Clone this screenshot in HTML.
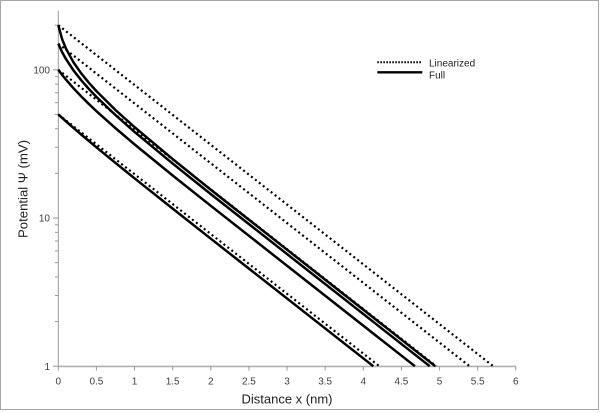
<!DOCTYPE html>
<html><head><meta charset="utf-8"><style>
html,body{margin:0;padding:0;background:#fff;}
svg{display:block;}
</style></head><body>
<svg width="600" height="413" viewBox="0 0 600 413" xmlns="http://www.w3.org/2000/svg">
<rect x="0" y="0" width="600" height="413" fill="#fff"/>
<rect x="0.5" y="0.5" width="598" height="409" fill="#fff" stroke="#a6a6a6" stroke-width="1"/>

<!-- y axis -->
<g stroke="#9a9a9a" stroke-width="1">
<line x1="58.3" y1="10.7" x2="58.3" y2="367"/>
<line x1="53" y1="366.2" x2="58.3" y2="366.2"/>
<line x1="53" y1="218" x2="58.3" y2="218"/>
<line x1="53" y1="69.8" x2="58.3" y2="69.8"/>
<g>
<line x1="55" y1="321.59" x2="58.3" y2="321.59"/>
<line x1="55" y1="295.49" x2="58.3" y2="295.49"/>
<line x1="55" y1="276.97" x2="58.3" y2="276.97"/>
<line x1="55" y1="262.61" x2="58.3" y2="262.61"/>
<line x1="55" y1="250.88" x2="58.3" y2="250.88"/>
<line x1="55" y1="240.96" x2="58.3" y2="240.96"/>
<line x1="55" y1="232.36" x2="58.3" y2="232.36"/>
<line x1="55" y1="224.78" x2="58.3" y2="224.78"/>
<line x1="55" y1="173.39" x2="58.3" y2="173.39"/>
<line x1="55" y1="147.29" x2="58.3" y2="147.29"/>
<line x1="55" y1="128.77" x2="58.3" y2="128.77"/>
<line x1="55" y1="114.41" x2="58.3" y2="114.41"/>
<line x1="55" y1="102.68" x2="58.3" y2="102.68"/>
<line x1="55" y1="92.76" x2="58.3" y2="92.76"/>
<line x1="55" y1="84.16" x2="58.3" y2="84.16"/>
<line x1="55" y1="76.58" x2="58.3" y2="76.58"/>
<line x1="55" y1="25.19" x2="58.3" y2="25.19"/>
</g>
</g>

<!-- x axis -->
<g stroke="#b0b0b0" stroke-width="1.6">
<line x1="58.3" y1="366.4" x2="516" y2="366.4"/>
</g>
<g stroke="#9a9a9a" stroke-width="1">
<line x1="58.3" y1="366" x2="58.3" y2="370.5"/>
<line x1="96.43" y1="366" x2="96.43" y2="370.5"/>
<line x1="134.55" y1="366" x2="134.55" y2="370.5"/>
<line x1="172.68" y1="366" x2="172.68" y2="370.5"/>
<line x1="210.8" y1="366" x2="210.8" y2="370.5"/>
<line x1="248.93" y1="366" x2="248.93" y2="370.5"/>
<line x1="287.05" y1="366" x2="287.05" y2="370.5"/>
<line x1="325.18" y1="366" x2="325.18" y2="370.5"/>
<line x1="363.3" y1="366" x2="363.3" y2="370.5"/>
<line x1="401.43" y1="366" x2="401.43" y2="370.5"/>
<line x1="439.55" y1="366" x2="439.55" y2="370.5"/>
<line x1="477.68" y1="366" x2="477.68" y2="370.5"/>
<line x1="515.8" y1="366" x2="515.8" y2="370.5"/>
</g>

<!-- tick labels -->
<g font-family="Liberation Sans, sans-serif" font-size="10" fill="#404040" text-anchor="middle">
<text x="58.3" y="384.5">0</text>
<text x="96.43" y="384.5">0.5</text>
<text x="134.55" y="384.5">1</text>
<text x="172.68" y="384.5">1.5</text>
<text x="210.8" y="384.5">2</text>
<text x="248.93" y="384.5">2.5</text>
<text x="287.05" y="384.5">3</text>
<text x="325.18" y="384.5">3.5</text>
<text x="363.3" y="384.5">4</text>
<text x="401.43" y="384.5">4.5</text>
<text x="439.55" y="384.5">5</text>
<text x="477.68" y="384.5">5.5</text>
<text x="515.8" y="384.5">6</text>
</g>
<g font-family="Liberation Sans, sans-serif" font-size="10" fill="#404040" text-anchor="end">
<text x="50" y="370">1</text>
<text x="50" y="221.5">10</text>
<text x="50" y="73.5">100</text>
</g>

<!-- axis titles -->
<text x="287" y="403.5" font-family="Liberation Sans, sans-serif" font-size="12.5" fill="#222" text-anchor="middle" textLength="91" lengthAdjust="spacingAndGlyphs">Distance x (nm)</text>
<text transform="translate(27.5,189) rotate(-90)" x="0" y="0" font-family="Liberation Sans, sans-serif" font-size="12.5" fill="#222" text-anchor="middle" textLength="98" lengthAdjust="spacingAndGlyphs">Potential Ψ (mV)</text>

<!-- Linearized (dotted) -->
<g stroke="#000" stroke-width="2.2" stroke-dasharray="2 3" fill="none">
<line x1="58.3" y1="25.19" x2="493.2" y2="366.2"/>
<line x1="58.3" y1="43.70" x2="469.6" y2="366.2"/>
<line x1="58.3" y1="69.8" x2="436.3" y2="366.2"/>
<line x1="58.3" y1="114.41" x2="379.4" y2="366.2"/>
</g>

<!-- Full (solid) -->
<g stroke="#000" stroke-width="2.5" fill="none" stroke-linejoin="round">
<polyline points="58.3,25.19 62.11,39.14 65.93,48.54 73.55,62.45 81.18,73.30 88.8,82.68 96.43,91.14 115.49,110.01 134.55,127.14 172.68,159.07 210.8,189.74 435.2,366.2"/>
<polyline points="58.3,43.70 62.11,52.09 65.93,58.99 73.55,70.50 81.18,80.19 88.8,88.87 96.43,96.88 115.49,115.10 134.55,131.91 172.68,163.58 210.8,194.14 429.7,366.2"/>
<polyline points="58.3,69.8 62.11,74.85 65.93,79.60 73.55,88.32 81.18,96.36 88.8,103.93 96.43,111.15 115.49,128.19 134.55,144.37 172.68,175.48 210.8,205.83 414.9,366.2"/>
<polyline points="58.3,114.41 65.93,121.27 73.55,127.97 81.18,134.50 96.43,147.34 115.49,162.96 134.55,178.31 172.68,208.63 210.8,238.70 373.3,366.2"/>
</g>

<!-- legend -->
<line x1="377.3" y1="62.3" x2="422.3" y2="62.3" stroke="#000" stroke-width="2" stroke-dasharray="1.6 1.4"/>
<line x1="377.3" y1="72.3" x2="422.3" y2="72.3" stroke="#000" stroke-width="2.3"/>
<g font-family="Liberation Sans, sans-serif" font-size="10" fill="#222">
<text x="429" y="66.5">Linearized</text>
<text x="429" y="78.5">Full</text>
</g>
</svg>
</body></html>
